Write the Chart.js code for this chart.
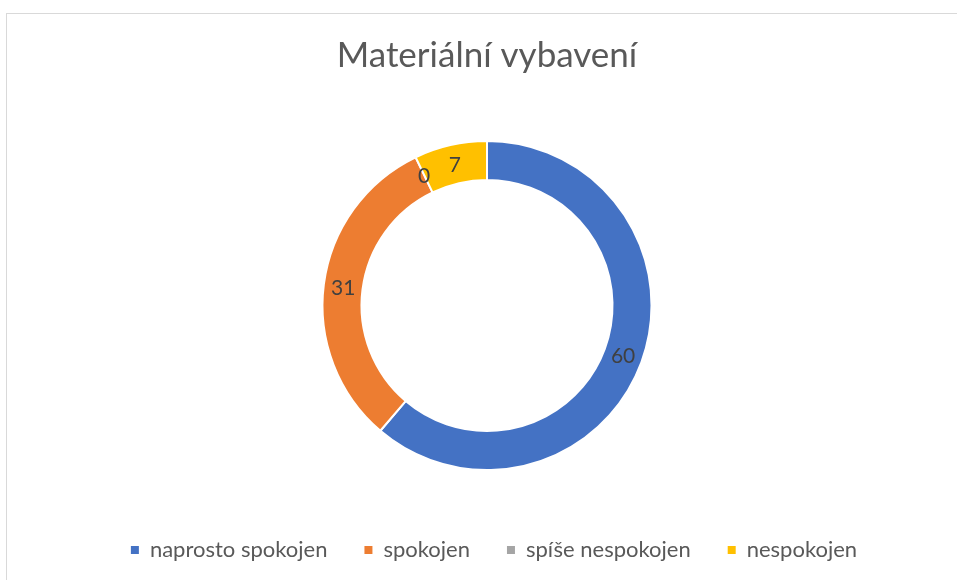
<!DOCTYPE html>
<html lang="cs">
<head>
  <meta charset="UTF-8">
  <title>Materiální vybavení</title>
  <script src="https://cdn.jsdelivr.net/npm/chart.js"></script>
  <style>
    html, body {
      margin: 0;
      background: #fff;
      overflow: hidden;
    }
    .frame {
      position: absolute;
      left: 6px;
      top: 13px;
      width: 980px;
      height: 600px;
      border-left: 1px solid #d9d9d9;
      border-top: 1px solid #d9d9d9;
    }
    #chart {
      position: absolute;
      left: 8px;
      top: 14px;
    }
  </style>
</head>
<body>
  <div class="frame"></div>
  <canvas id="chart" width="958" height="566"></canvas>

  <script>
    // data
    const labels = ['naprosto spokojen', 'spokojen', 'spíše nespokojen', 'nespokojen'];
    const values = [60, 31, 0, 7];
    const colors = ['#4472C4', '#ED7D31', '#A5A5A5', '#FFC000'];

    // value labels in the middle of each ring segment
    const valueLabels = {
      id: 'valueLabels',
      afterDatasetsDraw(chart) {
        const ctx = chart.ctx;
        const meta = chart.getDatasetMeta(0);
        ctx.save();
        ctx.font = '21px Lato';
        ctx.fillStyle = '#404040';
        ctx.textAlign = 'center';
        ctx.textBaseline = 'middle';
        meta.data.forEach((arc, i) => {
          const p = arc.getCenterPoint();
          ctx.fillText(String(values[i]), p.x, p.y + 1);
        });
        ctx.restore();
      }
    };

    // legend row sits a bit right of the ring centre in the original
    const legendShift = {
      id: 'legendShift',
      afterLayout(chart) {
        chart.legend.left += 14;
      }
    };

    const baseLabels = Chart.overrides.doughnut.plugins.legend.labels.generateLabels;

    new Chart(document.getElementById('chart'), {
      type: 'doughnut',
      data: {
        labels: labels,
        datasets: [{
          data: values,
          backgroundColor: colors,
          borderColor: '#ffffff',
          borderWidth: 2,
          hoverBorderWidth: 2
        }]
      },
      options: {
        responsive: false,
        animation: false,
        radius: 164.5,
        cutout: '76.3%',
        layout: { padding: { top: 0, bottom: 9, left: 0, right: 0 } },
        plugins: {
          title: {
            display: true,
            text: 'Materiální vybavení',
            color: '#595959',
            font: { family: 'Lato', size: 35, weight: 'normal' },
            padding: { top: 21, bottom: 32 }
          },
          legend: {
            position: 'bottom',
            labels: {
              color: '#595959',
              font: { family: 'Lato', size: 22 },
              boxWidth: 8,
              boxHeight: 8,
              padding: 37,
              generateLabels(chart) {
                return baseLabels(chart).map(item => Object.assign(item, { lineWidth: 0 }));
              }
            }
          },
          tooltip: { enabled: false }
        }
      },
      plugins: [valueLabels, legendShift]
    });
  </script>
</body>
</html>
